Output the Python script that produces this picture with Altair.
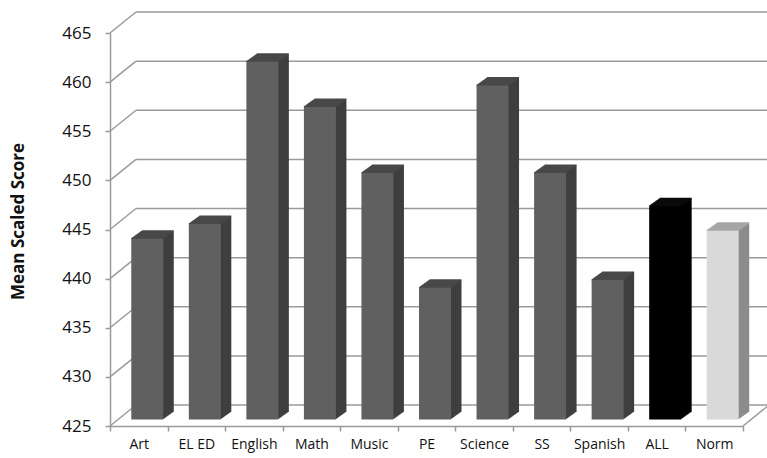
import altair as alt
import pandas as pd

categories = ["Art", "EL ED", "English", "Math", "Music", "PE", "Science", "SS", "Spanish", "ALL", "Norm"]
scores = [443.4, 444.9, 461.4, 456.8, 450.1, 438.4, 459.0, 450.1, 439.2, 446.7, 444.2]
groups = ["Subject"] * 9 + ["ALL", "Norm"]
y_ticks = [425, 430, 435, 440, 445, 450, 455, 460, 465]

df = pd.DataFrame({"category": categories, "score": scores, "group": groups})
grid_df = pd.DataFrame({"tick": y_ticks})

W, H = 633, 393
DX, DY = 26, 21          # depth of the 3-D box (pixels)
OX, OY = 8.5, -6.5       # front face of bars sits a bit inside the box
BW = 32                  # bar front width
N = 10                   # extrusion steps
SX, SY = 1.05, 0.75      # step per extrusion layer
FONT = "Open Sans"
GRID = "#9a9a9a"

group_dom = ["Subject", "ALL", "Norm"]
front_cols = ["#606060", "#000000", "#d9d9d9"]
top_cols = ["#484848", "#0a0a0a", "#a6a6a6"]
side_cols = ["#3f3f3f", "#000000", "#8c8c8c"]

x_axis = alt.Axis(title=None, labelFont=FONT, labelFontSize=14, labelColor="#111",
                  labelPadding=6, tickBand="extent", tickSize=5, tickColor=GRID,
                  tickWidth=1.5, domainColor=GRID, domainWidth=1.5, labelAngle=0)
y_axis = alt.Axis(title="Mean Scaled Score", values=y_ticks, grid=False,
                  labelFont=FONT, labelFontSize=17, labelColor="#111", labelPadding=14,
                  tickSize=5, tickColor=GRID, tickWidth=1.5, domainColor=GRID, domainWidth=1.5,
                  titleFont=FONT, titleFontSize=17, titleFontWeight="bold", titleColor="#111",
                  titleX=-92, titleY=188, titleAlign="center", titleBaseline="middle", titleAngle=-90)

x_scale = alt.Scale(domain=categories, paddingInner=0, paddingOuter=0)
y_scale = alt.Scale(domain=[425, 465], nice=False, zero=False)


def X():
    return alt.X("category:N", sort=categories, scale=x_scale, axis=x_axis)


def Y(field):
    return alt.Y(field, scale=y_scale, axis=y_axis)


def C(rng):
    return alt.Color("group:N", scale=alt.Scale(domain=group_dom, range=rng), legend=None)


layers = []

# back-wall gridlines
layers.append(
    alt.Chart(grid_df).mark_rule(color=GRID, strokeWidth=1.5, yOffset=-DY).encode(
        y=Y("tick:Q"), x=alt.value(DX), x2=alt.value(W + 30)
    )
)
# side-wall diagonals
layers.append(
    alt.Chart(grid_df).mark_rule(color=GRID, strokeWidth=1.5, y2Offset=-DY).encode(
        y=Y("tick:Q"), y2=alt.Y2("tick:Q"), x=alt.value(0), x2=alt.value(DX)
    )
)
# floor right edge
layers.append(
    alt.Chart(grid_df).transform_filter(alt.datum.tick == 425).mark_rule(
        color=GRID, strokeWidth=1.5, y2Offset=-DY).encode(
        y=Y("tick:Q"), y2=alt.Y2("tick:Q"), x=alt.value(W), x2=alt.value(W + DX)
    )
)

# side extrusion
for k in range(N, 0, -1):
    off_x = OX + k * SX
    off_y = OY - k * SY
    layers.append(
        alt.Chart(df).mark_bar(width=BW, xOffset=off_x, x2Offset=off_x,
                               yOffset=off_y, y2Offset=off_y).encode(
            x=X(), y=Y("score:Q"), y2=alt.datum(425), color=C(side_cols)
        )
    )
# top face
for k in range(N, -1, -1):
    off_x = OX + k * SX
    off_y = OY - k * SY
    layers.append(
        alt.Chart(df).mark_bar(width=BW, xOffset=off_x, x2Offset=off_x,
                               yOffset=off_y + 0.5, y2Offset=off_y - 1.0).encode(
            x=X(), y=Y("score:Q"), y2=alt.Y2("score:Q"), color=C(top_cols)
        )
    )
# front face
layers.append(
    alt.Chart(df).mark_bar(width=BW, xOffset=OX, x2Offset=OX, yOffset=OY, y2Offset=OY).encode(
        x=X(), y=Y("score:Q"), y2=alt.datum(425), color=C(front_cols)
    )
)

chart = alt.layer(*layers).resolve_scale(color="independent").properties(
    width=W, height=H,
    autosize=alt.AutoSizeParams(type="none"),
    padding={"left": 110, "top": 33, "right": 24, "bottom": 32},
    background="white",
).configure_view(stroke=None)

chart.save("out.html", embed_options={"renderer": "svg", "actions": False})
